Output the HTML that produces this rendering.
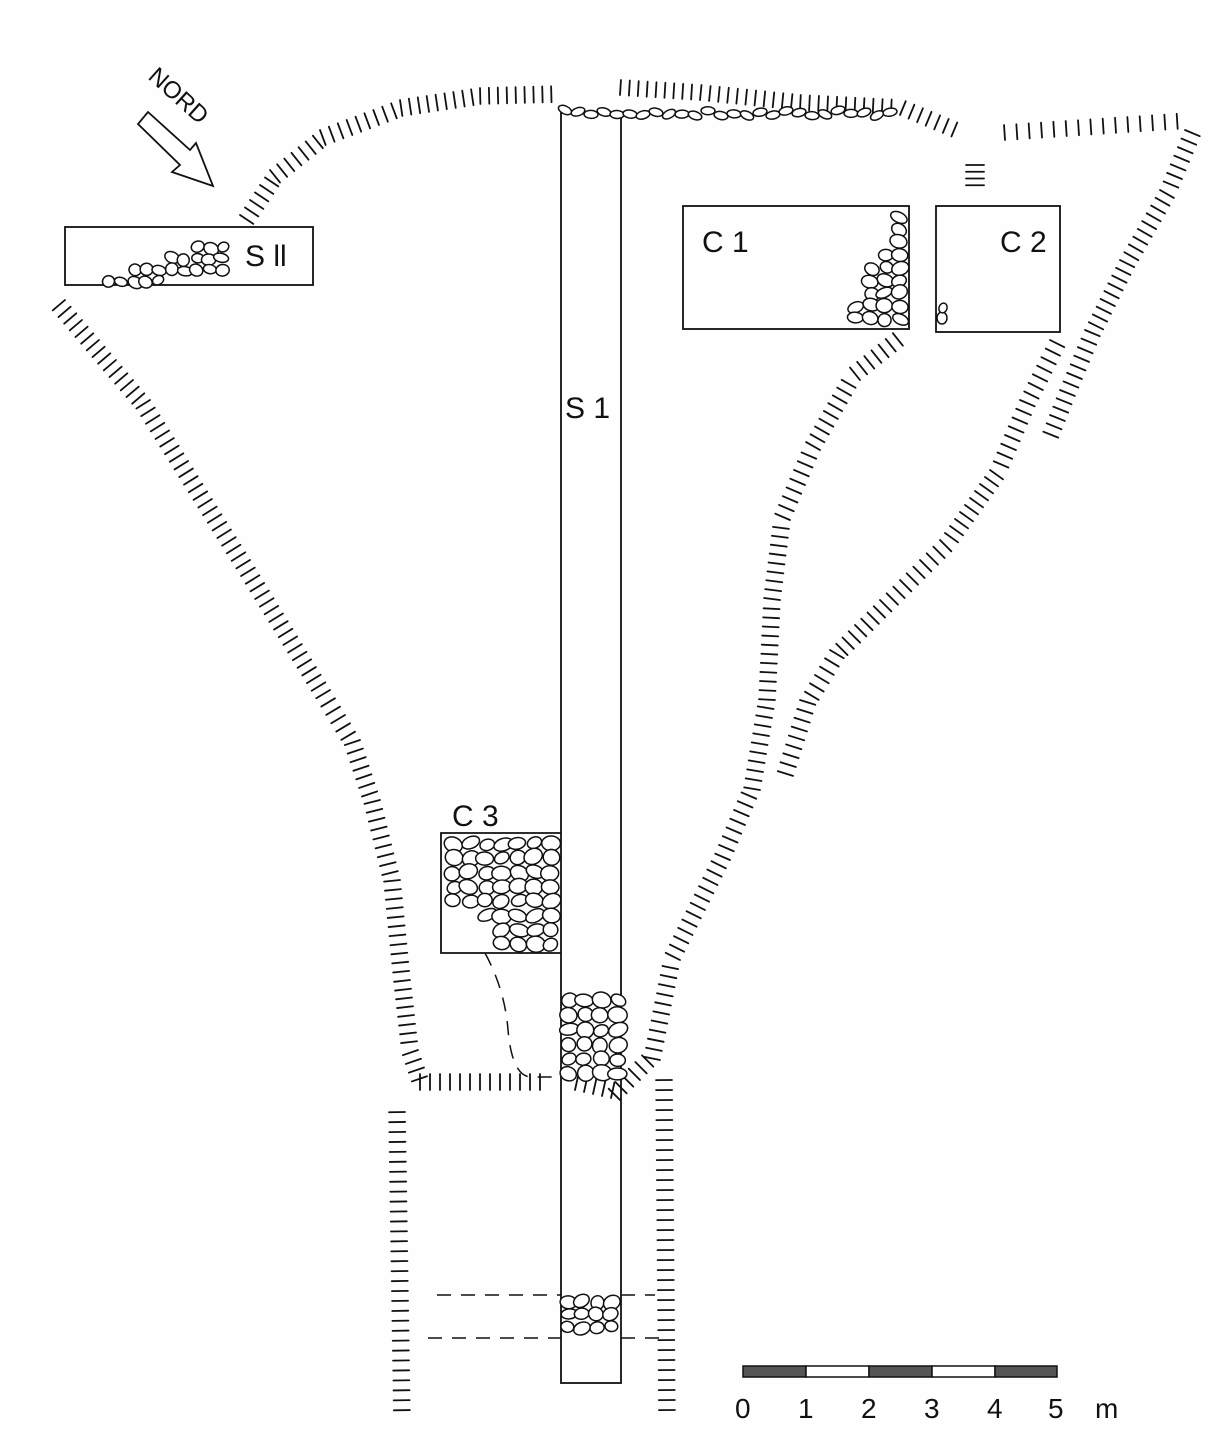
<!DOCTYPE html>
<html><head><meta charset="utf-8"><style>
html,body{margin:0;padding:0;background:#fff;}
svg{display:block;}
text{font-family:"Liberation Sans",sans-serif;fill:#111;}
</style></head><body>
<svg id="s" width="1224" height="1453" viewBox="0 0 1224 1453" xmlns="http://www.w3.org/2000/svg">
<rect width="1224" height="1453" fill="#fefefe"/>
<g fill="none" stroke="#111" stroke-width="1.8">
<rect x="561" y="113" width="60" height="1270"/>
<rect x="65" y="227" width="248" height="58"/>
<rect x="683" y="206" width="226" height="123"/>
<rect x="936" y="206" width="124" height="126"/>
<path d="M561 833 H441 V953 H561"/>
</g>
<g stroke="#111" stroke-width="1.5" stroke-dasharray="14,10" fill="none">
<path d="M437 1295 H561 M621 1295 H655"/>
<path d="M428 1338 H561 M621 1338 H660"/>
<path d="M485 953 Q505 990 508 1030 Q512 1075 530 1077 H561"/>
</g>
<g id="h" stroke="#111" stroke-width="1.8" stroke-linecap="round"></g>
<g id="st" fill="#fff" stroke="#111" stroke-width="1.5"></g>
<g stroke="#111" stroke-width="1.5">
<rect x="743" y="1366" width="63" height="11" fill="#555"/>
<rect x="806" y="1366" width="63" height="11" fill="#fff"/>
<rect x="869" y="1366" width="63" height="11" fill="#555"/>
<rect x="932" y="1366" width="63" height="11" fill="#fff"/>
<rect x="995" y="1366" width="62" height="11" fill="#555"/>
</g>
<g font-size="28">
<text x="735" y="1418">0</text><text x="798" y="1418">1</text><text x="861" y="1418">2</text>
<text x="924" y="1418">3</text><text x="987" y="1418">4</text><text x="1048" y="1418">5</text>
<text x="1095" y="1418">m</text>
<text x="245" y="266" font-size="30">S ll</text>
<text x="702" y="252" font-size="30">C 1</text>
<text x="1000" y="252" font-size="30">C 2</text>
<text x="452" y="826" font-size="30">C 3</text>
<text x="565" y="418" font-size="30">S 1</text>
<text transform="translate(147,78) rotate(42)" font-size="24">NORD</text>
</g>
<path d="M148 112 L190 150 L196 143 L213 186 L172 172 L180 165 L138 124 Z" fill="#fff" stroke="#111" stroke-width="1.8"/>
</svg>
<script>
var seed=7;function r(){seed=(seed*16807)%2147483647;return (seed-1)/2147483646;}
var NS="http://www.w3.org/2000/svg",H=document.getElementById("h"),ST=document.getElementById("st");
function hach(pts,len,sp,side){
 for(var i=0;i<pts.length-1;i++){
  var a=pts[i],b=pts[i+1],dx=b[0]-a[0],dy=b[1]-a[1],L=Math.hypot(dx,dy),n=Math.max(1,Math.round(L/sp));
  var nx=-dy/L*side,ny=dx/L*side;
  for(var k=0;k<n;k++){var t=k/n,x=a[0]+dx*t,y=a[1]+dy*t;
   var l=document.createElementNS(NS,"line");
   l.setAttribute("x1",x);l.setAttribute("y1",y);l.setAttribute("x2",x+nx*len);l.setAttribute("y2",y+ny*len);H.appendChild(l);}
 }}
hach([[240,215],[270,170],[320,130],[400,100],[480,88],[560,86]],16,9,1);
hach([[620,95],[700,100],[800,110],[900,115],[960,140]],-15,9,1);
hach([[1005,140],[1190,128]],-15,12,1);
hach([[966,165],[966,192]],18,7,-1);
hach([[1185,130],[1160,190],[1120,260],[1085,330],[1060,390],[1040,440]],16,9,-1);
hach([[1050,340],[1020,400],[990,470],[940,540],[880,600],[830,650],[800,700],[775,780]],16,9,-1);
hach([[65,300],[150,400],[250,560],[330,690],[360,740],[380,800],[400,880],[410,980],[418,1050],[430,1085]],16,9,1);
hach([[420,1090],[550,1090]],16,10,-1);
hach([[575,1090],[620,1100],[660,1060],[680,960],[730,860],[760,790],[775,700],[780,600],[790,520],[820,450],[860,380],[910,340]],16,9,-1);
hach([[405,1112],[410,1420]],16,10,1);
hach([[672,1080],[675,1420]],16,10,1);
function st(cx,cy,w,h){var e=document.createElementNS(NS,"ellipse");e.setAttribute("cx",cx);e.setAttribute("cy",cy);e.setAttribute("rx",w);e.setAttribute("ry",h);e.setAttribute("transform","rotate("+(r()*60-30)+" "+cx+" "+cy+")");ST.appendChild(e);}
function fill(x0,y0,x1,y1,sz,test){for(var y=y0;y<y1;y+=sz*1.6)for(var x=x0;x<x1;x+=sz*1.8){var cx=x+r()*3,cy=y+r()*3;if(!test||test(cx,cy))st(cx,cy,sz*(0.8+r()*0.3),sz*(0.6+r()*0.3));}}
for(var x=565;x<900;x+=13)st(x,110+r()*6,7,4);
fill(95,235,230,282,7,function(x,y){return y>282-(x-95)*0.35&&y<290-(x-95)*0.15;});
fill(855,215,905,325,8,function(x,y){return x>900-(y-210)*0.5;});
st(942,318,5,6);st(943,308,4,5);
fill(452,842,560,945,9,function(x,y){return !(x<490&&y>915);});
fill(567,1000,618,1078,9);
fill(567,1300,618,1335,8);
</script>
</body></html>
